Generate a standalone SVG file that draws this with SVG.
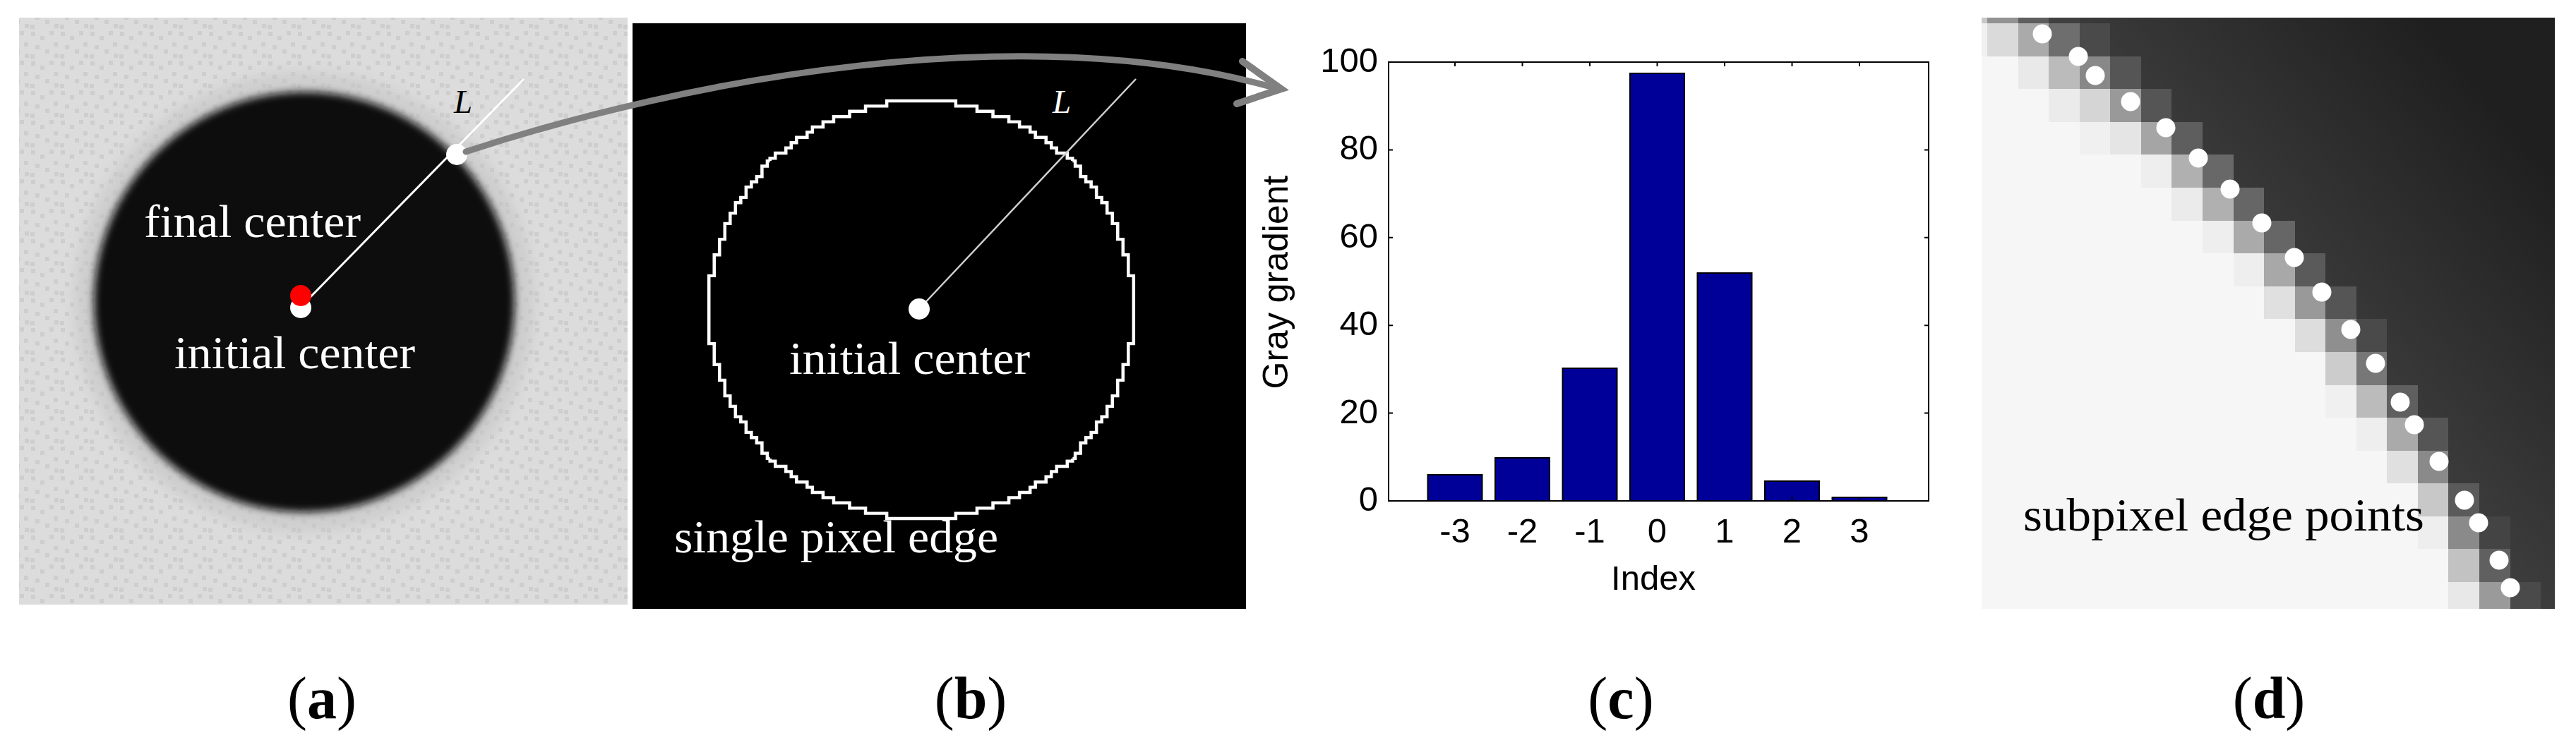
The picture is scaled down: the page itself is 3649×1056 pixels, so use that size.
<svg xmlns="http://www.w3.org/2000/svg" width="3649" height="1056" viewBox="0 0 3649 1056">
<style>
.serif{font-family:"Liberation Serif","DejaVu Serif",serif}
.sans{font-family:"Liberation Sans",Arial,sans-serif;font-size:49px;fill:#000}
.lbl{font-size:66px}
.cap{font-family:"Liberation Serif","DejaVu Serif",serif;font-size:84px;fill:#000;text-anchor:middle}
.ax{stroke:#000;stroke-width:2;fill:none}
.bar{fill:#000099;stroke:#000;stroke-width:2}
.dot{fill:#fff}
</style>
<defs>
<pattern id="speck" width="42" height="42" patternUnits="userSpaceOnUse">
<rect width="42" height="42" fill="#dcdcdc"/>
<rect x="2" y="3" width="6" height="6" fill="#cecece"/>
<rect x="15" y="9" width="6" height="6" fill="#cecece"/>
<rect x="28" y="2" width="6" height="6" fill="#cecece"/>
<rect x="8" y="22" width="6" height="6" fill="#cecece"/>
<rect x="22" y="28" width="6" height="6" fill="#cecece"/>
<rect x="34" y="18" width="6" height="6" fill="#cecece"/>
<rect x="1" y="35" width="6" height="6" fill="#cecece"/>
<rect x="35" y="34" width="6" height="6" fill="#cecece"/>
</pattern>
<filter id="blur" x="-10%" y="-10%" width="120%" height="120%"><feGaussianBlur stdDeviation="6"/></filter>
<filter id="blur2" x="-20%" y="-20%" width="140%" height="140%"><feGaussianBlur stdDeviation="10"/></filter>
<linearGradient id="dark" gradientUnits="userSpaceOnUse" x1="3250" y1="440" x2="3560" y2="178">
<stop offset="0" stop-color="#3c3c3c"/>
<stop offset="0.3" stop-color="#333333"/>
<stop offset="1" stop-color="#1f1f1f"/>
</linearGradient>
</defs>
<rect width="3649" height="1056" fill="#fff"/>

<g id="panel-a">
<rect x="27" y="25" width="862" height="832" fill="url(#speck)"/>
<circle cx="431" cy="428" r="312" fill="none" stroke="#c4c4c4" stroke-width="24" filter="url(#blur2)" opacity="0.7"/>
<circle cx="431" cy="428" r="298" fill="#0a0a0a" filter="url(#blur)"/>
<line x1="428" y1="433" x2="742" y2="112" stroke="#fff" stroke-width="3"/>
<circle class="dot" cx="426" cy="436" r="15"/>
<circle cx="426" cy="419" r="15" fill="#ff0000"/>
<circle class="dot" cx="647" cy="219" r="15"/>
<text class="serif" x="643" y="160" font-size="47" font-style="italic" fill="#000">L</text>
<text class="serif lbl" x="204" y="336" fill="#fff" textLength="307" lengthAdjust="spacingAndGlyphs">final center</text>
<text class="serif lbl" x="247" y="522" fill="#fff" textLength="341" lengthAdjust="spacingAndGlyphs">initial center</text>
</g>

<g id="panel-b">
<rect x="896" y="33" width="869" height="830" fill="#000"/>
<g transform="translate(1305,439) scale(7.52,7.4)" fill="none" stroke="#fff" stroke-width="0.6">
<path id="oct" d="M0,-40 H6.5 V-39 H10.5 V-38 H13.5 V-37 H16.5 V-36 H18.5 V-35 H20.5 V-34 H21.5 V-33 H23.5 V-32 H24.5 V-31 H25.5 V-30 H27.5 V-29 H28.5 V-28.5"/>
<use href="#oct" transform="matrix(0,-1,-1,0,0,0)"/>
<use href="#oct" transform="scale(-1,1)"/>
<use href="#oct" transform="scale(-1,1) matrix(0,-1,-1,0,0,0)"/>
<use href="#oct" transform="scale(1,-1)"/>
<use href="#oct" transform="scale(1,-1) matrix(0,-1,-1,0,0,0)"/>
<use href="#oct" transform="scale(-1,-1)"/>
<use href="#oct" transform="scale(-1,-1) matrix(0,-1,-1,0,0,0)"/>
</g>
<line x1="1302" y1="438" x2="1609" y2="112" stroke="#d0d0d0" stroke-width="2.5"/>
<circle class="dot" cx="1302" cy="438" r="15"/>
<text class="serif" x="1491" y="160" font-size="47" font-style="italic" fill="#fff">L</text>
<text class="serif lbl" x="1118" y="530" fill="#fff" textLength="341" lengthAdjust="spacingAndGlyphs">initial center</text>
<text class="serif lbl" x="955" y="783" fill="#fff" textLength="459" lengthAdjust="spacingAndGlyphs">single pixel edge</text>
</g>

<g id="panel-c">
<rect class="bar" x="2022.5" y="673" width="77" height="37"/>
<rect class="bar" x="2118" y="649" width="77" height="61"/>
<rect class="bar" x="2213.5" y="522" width="77" height="188"/>
<rect class="bar" x="2309" y="104" width="77" height="606"/>
<rect class="bar" x="2404.5" y="387" width="77" height="323"/>
<rect class="bar" x="2500" y="682" width="77" height="28"/>
<rect class="bar" x="2595.5" y="705" width="77" height="5"/>
<rect class="ax" x="1967" y="88" width="765" height="622"/>
<path class="ax" d="M1967,585.6h6M1967,461.2h6M1967,336.8h6M1967,212.4h6M2732,585.6h-6M2732,461.2h-6M2732,336.8h-6M2732,212.4h-6M2061,88v6M2156.5,88v6M2252,88v6M2347.5,88v6M2443,88v6M2538.5,88v6M2634,88v6M2634,710v-6M2538.5,710v-6"/>
<g class="sans" text-anchor="end">
<text x="1952" y="724">0</text>
<text x="1952" y="600">20</text>
<text x="1952" y="475">40</text>
<text x="1952" y="351">60</text>
<text x="1952" y="226">80</text>
<text x="1952" y="102">100</text>
</g>
<g class="sans" text-anchor="middle">
<text x="2061" y="769">-3</text>
<text x="2156.5" y="769">-2</text>
<text x="2252" y="769">-1</text>
<text x="2347.5" y="769">0</text>
<text x="2443" y="769">1</text>
<text x="2538.5" y="769">2</text>
<text x="2634" y="769">3</text>
<text x="2342" y="836">Index</text>
<text transform="translate(1824,400) rotate(-90)" font-size="50">Gray gradient</text>
</g>
</g>

<g id="panel-d">
<rect x="2807" y="25" width="812" height="838" fill="#f6f6f6"/>
<path fill="url(#dark)" d="M3619,25 H2946 V33 H2989 V80 H3033 V126 H3076 V173 H3120 V219 H3164 V266 H3207 V313 H3251 V359 H3294 V406 H3338 V452 H3381 V546 H3425 V592 H3468 V685 H3512 V732 H3556 V825 H3599 V863 H3619 Z"/>
<g>
<rect x="2807" y="25" width="8" height="8" fill="#c8c8c8"/><rect x="2815" y="25" width="44" height="8" fill="#929292"/><rect x="2859" y="25" width="43" height="8" fill="#5e5e5e"/><rect x="2902" y="25" width="44" height="8" fill="#404040"/>
<rect x="2807" y="33" width="8" height="47" fill="#f0f0f0"/><rect x="2815" y="33" width="44" height="47" fill="#dadada"/><rect x="2859" y="33" width="43" height="47" fill="#aaaaaa"/><rect x="2902" y="33" width="44" height="47" fill="#6e6e6e"/><rect x="2946" y="33" width="43" height="47" fill="#4a4a4a"/>
<rect x="2859" y="80" width="43" height="46" fill="#e9e9e9"/><rect x="2902" y="80" width="44" height="46" fill="#bbbbbb"/><rect x="2946" y="80" width="43" height="46" fill="#888888"/><rect x="2989" y="80" width="44" height="46" fill="#555555"/>
<rect x="2902" y="126" width="44" height="47" fill="#ebebeb"/><rect x="2946" y="126" width="43" height="47" fill="#d5d5d5"/><rect x="2989" y="126" width="44" height="47" fill="#999999"/><rect x="3033" y="126" width="43" height="47" fill="#555555"/>
<rect x="2946" y="173" width="43" height="46" fill="#f0f0f0"/><rect x="2989" y="173" width="44" height="46" fill="#e5e5e5"/><rect x="3033" y="173" width="43" height="46" fill="#a5a5a5"/><rect x="3076" y="173" width="44" height="46" fill="#5e5e5e"/>
<rect x="3033" y="219" width="43" height="47" fill="#eeeeee"/><rect x="3076" y="219" width="44" height="47" fill="#b0b0b0"/><rect x="3120" y="219" width="44" height="47" fill="#686868"/>
<rect x="3076" y="266" width="44" height="47" fill="#ebebeb"/><rect x="3120" y="266" width="44" height="47" fill="#b0b0b0"/><rect x="3164" y="266" width="43" height="47" fill="#666666"/>
<rect x="3120" y="313" width="44" height="46" fill="#eeeeee"/><rect x="3164" y="313" width="43" height="46" fill="#aaaaaa"/><rect x="3207" y="313" width="44" height="46" fill="#666666"/>
<rect x="3164" y="359" width="43" height="47" fill="#eeeeee"/><rect x="3207" y="359" width="44" height="47" fill="#a8a8a8"/><rect x="3251" y="359" width="43" height="47" fill="#5a5a5a"/>
<rect x="3207" y="406" width="44" height="46" fill="#e0e0e0"/><rect x="3251" y="406" width="43" height="46" fill="#999999"/><rect x="3294" y="406" width="44" height="46" fill="#555555"/>
<rect x="3251" y="452" width="43" height="47" fill="#dddddd"/><rect x="3294" y="452" width="44" height="47" fill="#8f8f8f"/><rect x="3338" y="452" width="43" height="47" fill="#4a4a4a"/>
<rect x="3294" y="499" width="44" height="47" fill="#cccccc"/><rect x="3338" y="499" width="43" height="47" fill="#777777"/>
<rect x="3294" y="546" width="44" height="46" fill="#f0f0f0"/><rect x="3338" y="546" width="43" height="46" fill="#bbbbbb"/><rect x="3381" y="546" width="44" height="46" fill="#5f5f5f"/>
<rect x="3338" y="592" width="43" height="47" fill="#eeeeee"/><rect x="3381" y="592" width="44" height="47" fill="#aaaaaa"/><rect x="3425" y="592" width="43" height="47" fill="#555555"/>
<rect x="3381" y="639" width="44" height="46" fill="#e0e0e0"/><rect x="3425" y="639" width="43" height="46" fill="#8a8a8a"/>
<rect x="3425" y="685" width="43" height="47" fill="#c8c8c8"/><rect x="3468" y="685" width="44" height="47" fill="#5a5a5a"/>
<rect x="3425" y="732" width="43" height="46" fill="#eeeeee"/><rect x="3468" y="732" width="44" height="46" fill="#8a8a8a"/><rect x="3512" y="732" width="44" height="46" fill="#444444"/>
<rect x="3468" y="778" width="44" height="47" fill="#c2c2c2"/><rect x="3512" y="778" width="44" height="47" fill="#606060"/>
<rect x="3468" y="825" width="44" height="38" fill="#e8e8e8"/><rect x="3512" y="825" width="44" height="38" fill="#9a9a9a"/><rect x="3556" y="825" width="43" height="38" fill="#4a4a4a"/>
</g>
<g class="dot">
<circle cx="2893" cy="48" r="13.5"/><circle cx="2944" cy="80" r="13.5"/><circle cx="2968" cy="107" r="13.5"/><circle cx="3018" cy="144" r="13.5"/><circle cx="3068" cy="181" r="13.5"/><circle cx="3114" cy="224" r="13.5"/><circle cx="3159" cy="268" r="13.5"/><circle cx="3204" cy="316" r="13.5"/><circle cx="3250" cy="365" r="13.5"/><circle cx="3289" cy="414" r="13.5"/><circle cx="3330" cy="467" r="13.5"/><circle cx="3365" cy="515" r="13.5"/><circle cx="3400" cy="570" r="13.5"/><circle cx="3420" cy="602" r="13.5"/><circle cx="3455" cy="654" r="13.5"/><circle cx="3491" cy="709" r="13.5"/><circle cx="3511" cy="741" r="13.5"/><circle cx="3540" cy="794" r="13.5"/><circle cx="3556" cy="833" r="13.5"/>
</g>
<text class="serif lbl" x="2866" y="752" fill="#000" textLength="568" lengthAdjust="spacingAndGlyphs">subpixel edge points</text>
</g>

<g id="connectors" fill="none" stroke="#808080" stroke-linecap="round">
<path d="M660,215 C980,110 1450,25 1800,123" stroke-width="9"/>
<polyline points="1760,87 1815,126 1752,147" stroke-width="10" stroke-linejoin="miter"/>
</g>

<g id="captions">
<text class="cap" x="456" y="1018">(<tspan font-weight="bold">a</tspan>)</text>
<text class="cap" x="1375" y="1018">(<tspan font-weight="bold">b</tspan>)</text>
<text class="cap" x="2296" y="1018">(<tspan font-weight="bold">c</tspan>)</text>
<text class="cap" x="3214" y="1018">(<tspan font-weight="bold">d</tspan>)</text>
</g>
</svg>
